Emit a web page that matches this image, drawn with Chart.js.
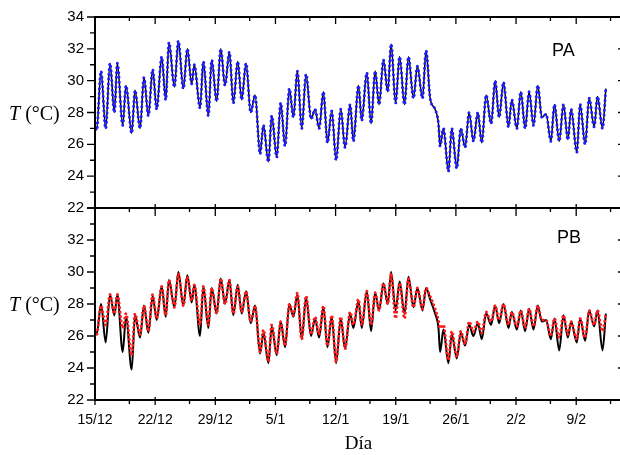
<!DOCTYPE html>
<html>
<head>
<meta charset="utf-8">
<script src="https://cdn.jsdelivr.net/npm/chart.js@4.4.1/dist/chart.umd.min.js"></script>
<style>
body { margin: 0; background: #fff; }
#marco { position: relative; width: 620px; height: 455px; overflow: hidden; }
canvas { position: absolute; left: 0; }
#grafA { top: 0; }
#grafB { top: 197px; }
.ytit { position: absolute; font-family: "Liberation Serif", "Times New Roman", serif; font-size: 20px; line-height: 20px; white-space: nowrap; }
.panel { position: absolute; font-family: "Liberation Sans", Arial, sans-serif; font-size: 18px; line-height: 18px; }
</style>
</head>
<body>
<div id="marco">
  <canvas id="grafA" width="622" height="220"></canvas>
  <canvas id="grafB" width="622" height="258"></canvas>
  <div class="ytit" style="left:9px; top:103px;"><i>T</i> (°C)</div>
  <div class="ytit" style="left:9px; top:294px;"><i>T</i> (°C)</div>
  <div class="panel" style="left:552px; top:41px;">PA</div>
  <div class="panel" style="left:557px; top:228px;">PB</div>
</div>
<script>
// eje x en dias desde el 15/12
const fechas = ["15/12", "22/12", "29/12", "5/1", "12/1", "19/1", "26/1", "2/2", "9/2"];
const diasMayor = [0, 7, 14, 21, 28, 35, 42, 49, 56];
const diasMenor = [4, 11, 18, 25, 32, 39, 46, 53, 60];
const yMayor = [22, 24, 26, 28, 30, 32, 34];
const yMenor = [23, 25, 27, 29, 31, 33];

// instantes de maximos y minimos diarios (dias)
const tiempo = [
  0.00, 0.19, 0.70, 1.24, 1.75, 2.25, 2.60, 3.22, 3.61, 4.27,
  4.66, 5.24, 5.70, 6.21, 6.71, 7.18, 7.76, 8.23, 8.61, 9.24,
  9.70, 10.28, 10.75, 11.25, 11.56, 12.22, 12.61, 13.19, 13.58, 14.16,
  14.63, 15.13, 15.64, 16.10, 16.61, 17.07, 17.58, 18.12, 18.63, 19.21,
  19.60, 20.18, 20.57, 21.15, 21.61, 22.12, 22.62, 23.09, 23.55, 24.06,
  24.56, 25.15, 25.61, 26.08, 26.58, 27.05, 27.55, 28.06, 28.60, 29.10,
  29.69, 30.07, 30.66, 31.04, 31.63, 32.13, 32.60, 33.06, 33.57, 34.07,
  34.46, 34.98, 35.45, 36.02, 36.48, 37.06, 37.52, 38.11, 38.53, 39.00,
  39.58, 39.97, 40.16, 40.55, 41.13, 41.52, 42.10, 42.57, 43.07, 43.54,
  44.04, 44.55, 45.01, 45.52, 46.10, 46.57, 47.03, 47.54, 48.12, 48.51,
  49.09, 49.55, 50.06, 50.52, 51.03, 51.53, 52.00, 52.50, 53.05, 53.47,
  54.02, 54.52, 55.03, 55.41, 56.07, 56.46, 57.04, 57.51, 58.09, 58.48,
  59.06, 59.45
];

const tempPA = [
  27.3, 26.9, 30.6, 27.0, 31.1, 28.0, 31.1, 27.2, 29.7, 26.7,
  29.4, 27.0, 30.2, 27.8, 30.7, 28.2, 31.5, 28.8, 32.4, 29.6,
  32.5, 29.5, 32.0, 29.8, 31.0, 28.3, 31.2, 27.8, 31.3, 28.7,
  32.0, 29.7, 31.8, 28.6, 31.2, 28.8, 31.1, 28.0, 29.1, 25.4,
  27.2, 24.9, 27.8, 25.2, 28.6, 25.9, 29.5, 27.7, 30.6, 27.0,
  30.4, 27.6, 28.2, 27.0, 29.3, 26.1, 28.1, 25.0, 28.2, 25.8,
  28.5, 26.2, 29.7, 27.5, 30.5, 27.3, 30.6, 28.5, 31.3, 29.3,
  32.3, 28.6, 31.5, 28.5, 31.5, 28.9, 30.9, 28.9, 31.9, 28.9,
  28.2, 27.3, 25.9, 27.0, 24.3, 27.0, 24.5, 27.0, 25.8, 28.0,
  26.2, 28.0, 26.1, 29.1, 27.3, 30.0, 27.7, 29.9, 27.1, 28.8,
  27.0, 29.3, 27.0, 29.3, 27.2, 29.7, 27.7, 27.9, 26.2, 28.5,
  26.2, 28.5, 26.3, 28.2, 25.5, 28.5, 26.0, 28.9, 27.1, 29.0,
  27.0, 29.5
];

// PB medida (rojo)
const tempPB = [
  26.3, 26.1, 27.9, 26.7, 28.6, 27.4, 28.6, 26.5, 27.4, 24.8,
  27.4, 26.1, 27.9, 26.3, 28.6, 27.1, 29.1, 27.3, 29.5, 27.8,
  29.9, 27.9, 29.7, 28.2, 29.2, 26.7, 29.1, 26.7, 29.0, 27.4,
  29.6, 28.0, 29.5, 27.4, 29.1, 27.5, 28.8, 26.9, 27.9, 25.0,
  26.4, 24.4, 26.7, 24.9, 26.9, 25.4, 28.0, 27.3, 28.7, 25.8,
  28.5, 26.1, 27.2, 26.1, 27.9, 25.4, 27.3, 24.4, 27.2, 25.2,
  27.5, 26.7, 28.3, 26.7, 28.8, 26.7, 28.7, 27.6, 29.3, 28.0,
  29.9, 27.1, 29.3, 27.1, 29.6, 27.8, 29.0, 27.7, 29.0, 28.5,
  27.7, 27.0, 26.5, 26.7, 24.5, 26.3, 24.7, 26.3, 25.5, 26.9,
  26.3, 26.9, 26.2, 27.5, 26.9, 27.9, 27.0, 28.0, 26.7, 27.5,
  26.6, 27.6, 26.5, 27.7, 26.6, 27.9, 27.0, 27.0, 26.0, 27.1,
  25.9, 27.3, 26.1, 26.9, 25.8, 27.1, 25.9, 27.6, 26.7, 27.6,
  26.3, 27.4
];

// PB linea negra
const tempPBnegra = [
  26.3, 26.1, 28.0, 25.6, 28.6, 27.3, 28.6, 25.0, 27.2, 23.9,
  27.3, 25.9, 27.9, 26.2, 28.5, 27.0, 29.1, 27.2, 29.5, 27.8,
  30.0, 27.9, 29.8, 28.1, 29.2, 26.0, 29.1, 26.5, 29.0, 27.4,
  29.6, 28.0, 29.5, 27.3, 29.2, 27.4, 28.8, 26.8, 27.9, 24.9,
  26.2, 24.3, 26.6, 24.8, 26.9, 25.3, 28.0, 27.2, 28.6, 25.8,
  28.4, 26.0, 27.1, 25.9, 27.8, 25.3, 27.2, 24.3, 27.1, 25.2,
  27.4, 26.5, 28.2, 26.5, 28.8, 26.3, 28.7, 27.6, 29.3, 28.0,
  30.0, 27.6, 29.4, 27.4, 29.7, 27.8, 29.0, 27.6, 29.0, 28.3,
  27.4, 26.5, 25.0, 26.4, 24.3, 26.1, 24.6, 26.2, 25.4, 26.7,
  26.0, 26.8, 25.8, 27.4, 26.7, 27.9, 26.8, 28.0, 26.5, 27.5,
  26.4, 27.6, 26.3, 27.7, 26.4, 27.9, 26.9, 27.0, 25.8, 27.1,
  25.1, 27.3, 25.9, 26.9, 25.6, 27.1, 25.7, 27.6, 26.6, 27.6,
  25.1, 27.4
];

const puntos = (vals) => vals.map((v, i) => ({ x: tiempo[i], y: v }));

// marco y marcas de los ejes
const marcoEjes = {
  id: 'marcoEjes',
  afterDatasetsDraw(chart, args, o) {
    const { ctx, chartArea: a } = chart;
    const sx = chart.scales.x, sy = chart.scales.y;
    ctx.save();
    ctx.strokeStyle = '#000';
    ctx.lineWidth = 1.3;
    ctx.beginPath();
    const seg = (x1, y1, x2, y2) => { ctx.moveTo(x1, y1); ctx.lineTo(x2, y2); };
    diasMayor.forEach(d => {
      const px = sx.getPixelForValue(d);
      seg(px, a.top - o.arriba[0], px, a.top + o.arriba[1]);
      seg(px, a.bottom - o.abajo[0], px, a.bottom + o.abajo[1]);
    });
    diasMenor.forEach(d => {
      const px = sx.getPixelForValue(d);
      seg(px, a.top, px, a.top + o.arribaMenor);
      if (o.abajoMenor) seg(px, a.bottom, px, a.bottom + o.abajoMenor);
    });
    yMayor.forEach(v => {
      const py = sy.getPixelForValue(v);
      seg(a.left - 8, py, a.left, py);
      seg(a.right - 4, py, a.right, py);
    });
    yMenor.forEach(v => {
      const py = sy.getPixelForValue(v);
      seg(a.left - 5, py, a.left, py);
      seg(a.right - 2, py, a.right, py);
    });
    ctx.stroke();
    ctx.lineWidth = 2;
    ctx.strokeRect(a.left, a.top, a.right - a.left, a.bottom - a.top);
    ctx.restore();
  }
};

const fuenteTicks = { family: '"Liberation Sans", Arial, sans-serif', size: 15 };

function opciones(esAbajo) {
  return {
    responsive: false,
    animation: false,
    layout: { padding: { top: esAbajo ? 11 : 17, right: 0, bottom: 0, left: 0 } },
    plugins: {
      legend: { display: false },
      tooltip: { enabled: false },
      marcoEjes: esAbajo
        ? { arriba: [0, 8], arribaMenor: 4, abajo: [3, 5], abajoMenor: 4 }
        : { arriba: [0, 7], arribaMenor: 4, abajo: [4, 0], abajoMenor: 0 }
    },
    scales: {
      x: {
        type: 'linear',
        min: 0,
        max: 61.33,
        grid: { display: false, drawTicks: false },
        border: { display: false },
        afterFit: (s) => { s.height = esAbajo ? 55 : 12; },
        afterBuildTicks: (s) => { s.ticks = diasMayor.map(v => ({ value: v })); },
        ticks: {
          display: esAbajo,
          autoSkip: false,
          maxRotation: 0,
          padding: 12,
          color: '#000',
          font: { family: '"Liberation Sans", Arial, sans-serif', size: 14 },
          callback: (v) => fechas[diasMayor.indexOf(v)]
        },
        title: {
          display: esAbajo,
          text: 'Día',
          color: '#000',
          font: { family: '"Liberation Serif", "Times New Roman", serif', size: 19 },
          padding: { top: 0, bottom: 0 }
        }
      },
      y: {
        min: 22,
        max: 34,
        grid: { display: false, drawTicks: true, tickLength: 9 },
        border: { display: false },
        afterFit: (s) => { s.width = 95; },
        afterBuildTicks: (s) => { s.ticks = yMayor.map(v => ({ value: v })); },
        ticks: {
          padding: 2,
          color: '#000',
          font: fuenteTicks,
          callback: (v) => (esAbajo && v === 34) ? '' : String(v)
        }
      }
    }
  };
}

new Chart(document.getElementById('grafA'), {
  type: 'line',
  data: {
    datasets: [
      {
        label: 'PA',
        data: puntos(tempPA),
        borderColor: '#1c1cff',
        borderWidth: 3,
        borderDash: [0, 4.8],
        borderCapStyle: 'round',
        pointRadius: 0,
        cubicInterpolationMode: 'monotone',
        order: 0
      },
      {
        label: 'PA linea',
        data: puntos(tempPA),
        borderColor: '#000',
        borderWidth: 1.5,
        pointRadius: 0,
        cubicInterpolationMode: 'monotone',
        order: 1
      }
    ]
  },
  options: opciones(false),
  plugins: [marcoEjes]
});

new Chart(document.getElementById('grafB'), {
  type: 'line',
  data: {
    datasets: [
      {
        label: 'PB',
        data: puntos(tempPB),
        borderColor: '#ff1c1c',
        borderWidth: 3,
        borderDash: [0, 4.4],
        borderCapStyle: 'round',
        pointRadius: 0,
        cubicInterpolationMode: 'monotone',
        order: 0
      },
      {
        label: 'PB linea',
        data: puntos(tempPBnegra),
        borderColor: '#000',
        borderWidth: 2,
        pointRadius: 0,
        cubicInterpolationMode: 'monotone',
        order: 1
      }
    ]
  },
  options: opciones(true),
  plugins: [marcoEjes]
});
</script>
</body>
</html>
